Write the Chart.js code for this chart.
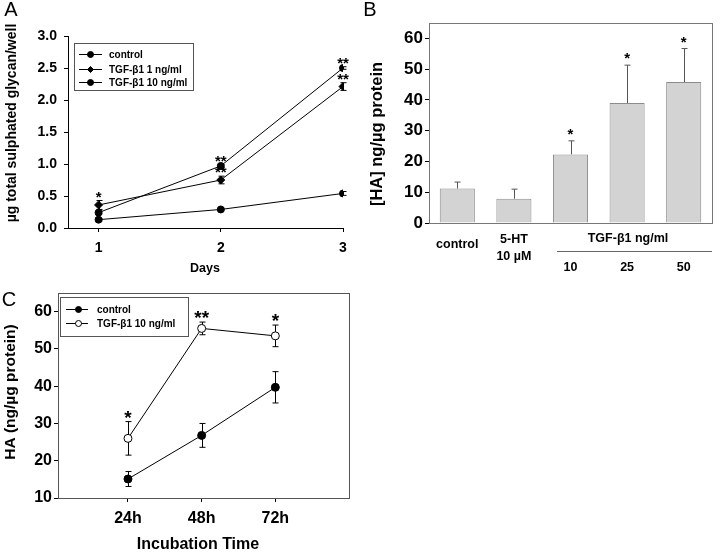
<!DOCTYPE html>
<html>
<head>
<meta charset="utf-8">
<script src="https://cdn.jsdelivr.net/npm/chart.js@4.4.1/dist/chart.umd.min.js"></script>
<style>
html, body { margin: 0; padding: 0; background: #fff; }
#wrap { position: relative; width: 720px; height: 554px; overflow: hidden; }
#wrap canvas { position: absolute; left: 0; top: 0; }
</style>
</head>
<body>
<div id="wrap">
	<canvas id="chartA" width="720" height="554"></canvas>
	<canvas id="chartB" width="720" height="554"></canvas>
	<canvas id="chartC" width="720" height="554"></canvas>
</div>
<script>
/* ---------- data: panel A ---------- */
const daysA = [1, 2, 3];
const dayLabelsA = ['1', '2', '3'];
const yTicksA = [0, 0.5, 1, 1.5, 2, 2.5, 3];
const controlA = [0.13, 0.29, 0.54];
const controlErrA = [0.02, 0.02, 0.03];
const tgf1A = [0.36, 0.75, 2.21];
const tgf1ErrA = [0.07, 0.06, 0.06];
const tgf10A = [0.24, 0.97, 2.50];
const tgf10ErrA = [0.02, 0.02, 0.02];
const starsTgf1A = ['*', '**', '**'];
const starsTgf10A = ['', '**', '**'];

/* ---------- data: panel B ---------- */
const catsB = ['control', '5-HT\n10 \u00b5M', '10', '25', '50'];
const groupLabelB = 'TGF-\u03b21 ng/ml';
const yTicksB = [0, 10, 20, 30, 40, 50, 60];
const valuesB = [11.2, 7.9, 22.3, 39.0, 45.8];
const errB = [2.1, 3.1, 4.4, 12.3, 10.9];
const starsB = ['', '', '*', '*', '*'];

/* ---------- data: panel C ---------- */
const timesC = [1, 2, 3];
const timeLabelsC = ['24h', '48h', '72h'];
const yTicksC = [10, 20, 30, 40, 50, 60];
const controlC = [15.1, 26.8, 39.7];
const controlErrC = [2.0, 3.2, 4.2];
const tgfC = [26.0, 55.5, 53.5];
const tgfErrC = [4.5, 1.7, 2.9];
const starsTgfC = ['*', '**', '*'];

const FONT = "'Liberation Sans', Arial, Helvetica, sans-serif";
Chart.defaults.font.family = FONT;
Chart.defaults.color = '#000';
Chart.defaults.animation = false;

const pts = (xs, ys) => xs.map((x, i) => ({ x: x, y: ys[i] }));
const yOf = v => (v !== null && typeof v === 'object') ? v.y : v;
const bold = s => `bold ${s}px ${FONT}`;
const bf = s => ({ size: s, weight: 'bold', family: FONT });
const fixTicks = arr => s => { s.ticks = arr.map(v => ({ value: v })); };

/* ---------- decorations: error bars, stars, frame, legend, texts ---------- */
const decor = {
	id: 'decor',
	beforeDatasetsDraw(chart, args, o) {
		const ctx = chart.ctx, ys = chart.scales.y;
		ctx.save();
		ctx.strokeStyle = o.errColor || '#000';
		ctx.lineWidth = 1;
		chart.data.datasets.forEach((ds, i) => {
			if (!ds.err) return;
			chart.getDatasetMeta(i).data.forEach((el, j) => {
				const v = yOf(ds.data[j]);
				const px = Math.round(el.x) + 0.5;
				const t = ys.getPixelForValue(v + ds.err[j]);
				const b = ys.getPixelForValue(ds.errUpOnly ? v : v - ds.err[j]);
				const cw = o.capWidth || 3;
				ctx.beginPath();
				ctx.moveTo(px, t); ctx.lineTo(px, b);
				ctx.moveTo(px - cw, t); ctx.lineTo(px + cw, t);
				if (!ds.errUpOnly) { ctx.moveTo(px - cw, b); ctx.lineTo(px + cw, b); }
				ctx.stroke();
			});
		});
		ctx.restore();
	},
	afterDatasetsDraw(chart, args, o) {
		const ctx = chart.ctx, ys = chart.scales.y, xs = chart.scales.x, a = chart.chartArea;
		ctx.save();
		if (o.frame) {
			ctx.strokeStyle = o.frame; ctx.lineWidth = 1;
			ctx.strokeRect(Math.round(a.left) + 0.5, Math.round(a.top) + 0.5, Math.round(a.right - a.left), Math.round(a.bottom - a.top));
		}
		// significance stars
		const ss = o.starSize || 14;
		ctx.fillStyle = '#000';
		ctx.textAlign = 'center';
		ctx.textBaseline = 'alphabetic';
		ctx.font = bold(ss);
		chart.data.datasets.forEach((ds, i) => {
			if (!ds.stars) return;
			chart.getDatasetMeta(i).data.forEach((el, j) => {
				if (!ds.stars[j]) return;
				const v = yOf(ds.data[j]) + (ds.err ? ds.err[j] : 0);
				const cy = ys.getPixelForValue(v) - (o.starGap || 6);
				ctx.fillText(ds.stars[j], el.x, cy + 0.42 * ss);
			});
		});
		// legend box
		if (o.legend) {
			const L = o.legend;
			ctx.strokeStyle = '#555'; ctx.lineWidth = 1;
			ctx.strokeRect(L.box[0] + 0.5, L.box[1] + 0.5, L.box[2] - L.box[0], L.box[3] - L.box[1]);
			chart.data.datasets.forEach((ds, i) => {
				const y = Math.round(L.rowY[i]) + 0.5;
				ctx.strokeStyle = '#000';
				ctx.beginPath(); ctx.moveTo(L.lineX[0], y); ctx.lineTo(L.lineX[1], y); ctx.stroke();
				ctx.fillStyle = ds.pointBackgroundColor || '#000';
				ctx.strokeStyle = ds.borderColor || '#000';
				ctx.lineWidth = 1;
				Chart.helpers.drawPoint(ctx, { pointStyle: ds.pointStyle || 'circle', radius: L.markR, borderWidth: 1, rotation: 0 }, L.markX, y);
				ctx.fillStyle = '#000';
				ctx.font = bold(L.fontSize);
				ctx.textAlign = 'left'; ctx.textBaseline = 'middle';
				ctx.fillText(ds.label, L.textX, y + 0.5);
			});
		}
		// category labels (panel B)
		if (o.cats) {
			ctx.fillStyle = '#000';
			ctx.font = bold(o.cats.fontSize);
			ctx.textAlign = 'center'; ctx.textBaseline = 'middle';
			chart.data.labels.forEach((lab, j) => {
				const x = xs.getPixelForValue(j);
				lab.split('\n').forEach((line, k) => ctx.fillText(line, x, o.cats.y[j] + k * o.cats.lineH));
			});
		}
		if (o.group) {
			const g = o.group;
			ctx.fillText(g.text, g.x, g.y);
			ctx.strokeStyle = '#666'; ctx.lineWidth = 1;
			ctx.beginPath(); ctx.moveTo(g.line[0], g.line[2] + 0.5); ctx.lineTo(g.line[1], g.line[2] + 0.5); ctx.stroke();
		}
		// free texts: titles and panel letters
		(o.texts || []).forEach(t => {
			ctx.save();
			ctx.fillStyle = '#000';
			ctx.font = t.font;
			ctx.textAlign = 'center'; ctx.textBaseline = 'middle';
			ctx.translate(t.x, t.y);
			if (t.rot) ctx.rotate(t.rot);
			ctx.fillText(t.text, 0, 0);
			ctx.restore();
		});
		ctx.restore();
	}
};

function axisStyle(tickLen) {
	return {
		grid: { display: true, drawOnChartArea: false, drawTicks: true, tickLength: tickLen, tickColor: '#000' },
		border: { display: true, color: '#000', width: 1 }
	};
}

/* ---------- panel A ---------- */
new Chart(document.getElementById('chartA'), {
	type: 'line',
	data: {
		datasets: [
			{ label: 'control', data: pts(daysA, controlA), err: controlErrA, pointStyle: 'circle', pointRadius: 3.5 },
			{ label: 'TGF-\u03b21 1 ng/ml', data: pts(daysA, tgf1A), err: tgf1ErrA, stars: starsTgf1A, pointStyle: 'rectRot', pointRadius: 4 },
			{ label: 'TGF-\u03b21 10 ng/ml', data: pts(daysA, tgf10A), err: tgf10ErrA, stars: starsTgf10A, pointStyle: 'circle', pointRadius: 3.5 }
		].map(d => Object.assign({ borderColor: '#000', borderWidth: 1, backgroundColor: '#000', pointBackgroundColor: '#000', pointBorderColor: '#000', tension: 0 }, d))
	},
	options: {
		responsive: false, devicePixelRatio: 1, events: [],
		layout: { padding: { left: 18, top: 36, right: 377, bottom: 286 } },
		plugins: {
			legend: { display: false }, tooltip: { enabled: false },
			decor: {
				starSize: 15, starGap: 5, capWidth: 3,
				legend: { box: [74, 43, 193, 90], rowY: [54, 68.5, 82], lineX: [79, 102], markX: 90.5, markR: 3, textX: 109, fontSize: 10 },
				texts: [
					{ text: 'A', x: 11, y: 10, font: `20px ${FONT}` },
					{ text: '\u00b5g total sulphated glycan/well', x: 12, y: 123, rot: -Math.PI / 2, font: bold(14) },
					{ text: 'Days', x: 205, y: 269, font: bold(12.5) }
				]
			}
		},
		scales: {
			x: Object.assign(axisStyle(4), {
				type: 'linear', min: 0.75, max: 3,
				afterBuildTicks: fixTicks(daysA),
				afterFit: s => { s.height = 40; },
				ticks: { font: bf(14), padding: 8, maxRotation: 0, autoSkip: false, callback: v => dayLabelsA[daysA.indexOf(v)] }
			}),
			y: Object.assign(axisStyle(4), {
				min: 0, max: 3,
				afterBuildTicks: fixTicks(yTicksA),
				afterFit: s => { s.width = 50; },
				ticks: { font: bf(14), padding: 7, autoSkip: false, callback: v => v.toFixed(1) }
			})
		}
	},
	plugins: [decor]
});

/* ---------- panel B ---------- */
new Chart(document.getElementById('chartB'), {
	type: 'bar',
	data: {
		labels: catsB,
		datasets: [{
			label: '[HA]', data: valuesB, err: errB, errUpOnly: true, stars: starsB,
			backgroundColor: '#d3d3d3', borderColor: '#8c8c8c', borderWidth: 1,
			barPercentage: 0.62, categoryPercentage: 1
		}]
	},
	options: {
		responsive: false, devicePixelRatio: 1, events: [],
		layout: { padding: { left: 379, top: 23, right: 8, bottom: 291 } },
		plugins: {
			legend: { display: false }, tooltip: { enabled: false },
			decor: {
				frame: '#777', starSize: 15, starGap: 8, capWidth: 3, errColor: '#555',
				cats: { y: [245, 240, 268, 268, 268], lineH: 17, fontSize: 12.5 },
				group: { text: groupLabelB, x: 628, y: 239, line: [557, 712, 251] },
				texts: [
					{ text: 'B', x: 370, y: 10, font: `20px ${FONT}` },
					{ text: '[HA] ng/\u00b5g protein', x: 377, y: 134, rot: -Math.PI / 2, font: bold(16.5) }
				]
			}
		},
		scales: {
			x: {
				grid: { display: false }, border: { display: true, color: '#777' },
				afterFit: s => { s.height = 40; },
				ticks: { display: false }
			},
			y: Object.assign(axisStyle(4), {
				min: 0, max: 65,
				afterBuildTicks: fixTicks(yTicksB),
				afterFit: s => { s.width = 50; },
				ticks: { font: bf(17), padding: 2, autoSkip: false }
			})
		}
	},
	plugins: [decor]
});

/* ---------- panel C ---------- */
new Chart(document.getElementById('chartC'), {
	type: 'line',
	data: {
		datasets: [
			{ label: 'control', data: pts(timesC, controlC), err: controlErrC, pointBackgroundColor: '#000' },
			{ label: 'TGF-\u03b21 10 ng/ml', data: pts(timesC, tgfC), err: tgfErrC, stars: starsTgfC, pointBackgroundColor: '#fff' }
		].map(d => Object.assign({ borderColor: '#000', borderWidth: 1, pointBorderColor: '#000', pointBorderWidth: 1, pointStyle: 'circle', pointRadius: 4, tension: 0 }, d))
	},
	options: {
		responsive: false, devicePixelRatio: 1, events: [],
		layout: { padding: { left: 8, top: 293, right: 371, bottom: 16 } },
		plugins: {
			legend: { display: false }, tooltip: { enabled: false },
			decor: {
				frame: '#555', starSize: 19, starGap: 6, capWidth: 3,
				legend: { box: [60, 297, 188, 336], rowY: [308.5, 322.5], lineX: [66, 88], markX: 78.5, markR: 3, textX: 97, fontSize: 10 },
				texts: [
					{ text: 'C', x: 9, y: 300, font: `20px ${FONT}` },
					{ text: 'HA (ng/\u00b5g protein)', x: 11, y: 392, rot: -Math.PI / 2, font: bold(15.5) },
					{ text: 'Incubation Time', x: 198, y: 545, font: bold(16) }
				]
			}
		},
		scales: {
			x: Object.assign(axisStyle(4), {
				type: 'linear', min: 0.05, max: 4,
				afterBuildTicks: fixTicks(timesC),
				afterFit: s => { s.height = 40; },
				ticks: { font: bf(16), padding: 7, maxRotation: 0, autoSkip: false, callback: v => timeLabelsC[timesC.indexOf(v)] }
			}),
			y: Object.assign(axisStyle(4), {
				min: 10, max: 65,
				afterBuildTicks: fixTicks(yTicksC),
				afterFit: s => { s.width = 50; },
				ticks: { font: bf(16), padding: 2, autoSkip: false }
			})
		}
	},
	plugins: [decor]
});
</script>
</body>
</html>
